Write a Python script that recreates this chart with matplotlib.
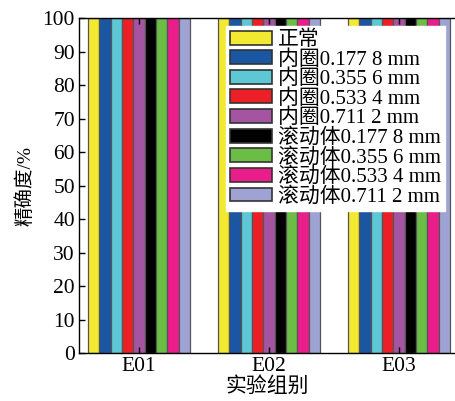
import numpy as np
import matplotlib
matplotlib.use('Agg')
from matplotlib import pyplot as plt

plt.rcParams['font.family'] = ['Liberation Serif', 'Noto Sans CJK SC']
plt.rcParams['font.size'] = 15

groups = ['E01', 'E02', 'E03']
labels = ['正常',
          '内圈0.177 8 mm', '内圈0.355 6 mm', '内圈0.533 4 mm', '内圈0.711 2 mm',
          '滚动体0.177 8 mm', '滚动体0.355 6 mm', '滚动体0.533 4 mm', '滚动体0.711 2 mm']
colors = ['#f2e930', '#1b56a3', '#5ec7d5', '#ec1f27', '#a454a0',
          '#000000', '#6cbd45', '#e91e8b', '#9fa3d3']
accuracy = [
    [100, 100, 100],
    [100, 100, 100],
    [100, 100, 100],
    [100, 100, 100],
    [100, 100, 100],
    [100, 100, 100],
    [100, 100, 100],
    [100, 100, 100],
    [100, 100, 100],
]

fig = plt.figure(figsize=(4.55, 4.01), dpi=100)
ax = fig.add_axes([0.1736, 0.1197, 0.8286, 0.8354])

x = np.arange(len(groups))
n = len(labels)
w = 0.785 / n
for i in range(n):
    ax.bar(x - 0.785 / 2 + w * (i + 0.5), accuracy[i], width=w, color=colors[i],
           edgecolor='#555555', linewidth=0.9, label=labels[i])

ax.set_xlim(-0.4615, 2.438)
ax.set_ylim(0, 100)
ax.set_yticks(np.arange(0, 101, 10))
ax.set_xticks(x)
ax.set_xticklabels(groups)
ax.tick_params(direction='in', length=4, width=1, top=True, pad=3, labelsize=15.5)
for s in ax.spines.values():
    s.set_linewidth(1)
ax.set_xlabel('实验组别', labelpad=1, fontsize=15)
ax.set_ylabel('精确度/%', labelpad=6, fontsize=14)

leg = ax.legend(loc='upper left', bbox_to_anchor=(0.39, 0.975), borderaxespad=0,
                frameon=True, fancybox=False, framealpha=1, edgecolor='white',
                labelspacing=0.0, handlelength=2.0, handleheight=0.65,
                handletextpad=0.3, borderpad=0.2, fontsize=15)
for h in leg.legend_handles:
    h.set_edgecolor('#333333')
    h.set_linewidth(1.2)

fig.savefig('out.png', dpi=100)
